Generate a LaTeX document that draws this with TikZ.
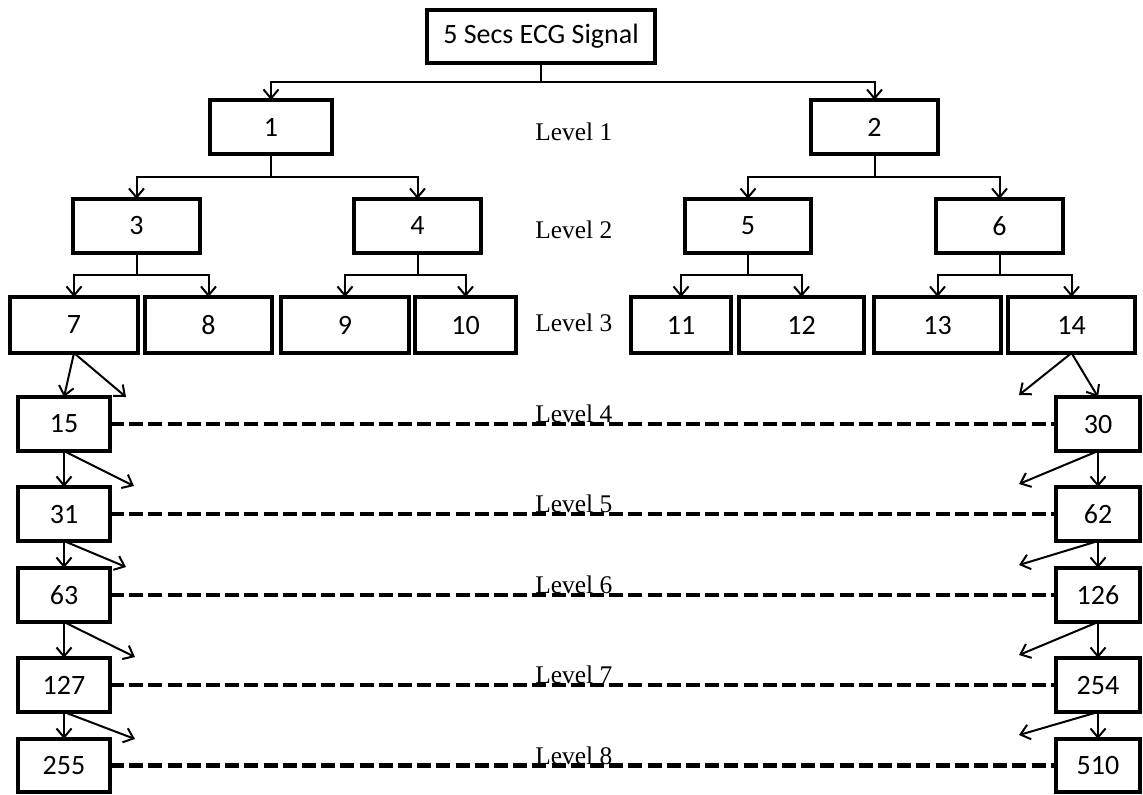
\documentclass[tikz,border=0pt]{standalone}
\usepackage{fontspec}
\setmainfont{Liberation Serif}
\newfontfamily\calfont{Carlito}
\usetikzlibrary{arrows.meta}
\tikzset{
  box/.style={draw, line width=1.8pt, inner sep=0pt, outer sep=0pt, font=\calfont\fontsize{14}{16}\selectfont},
  arr/.style={line width=1pt, -{Straight Barb[length=4.5pt,width=7.5pt,line width=1pt]}},
  conn/.style={line width=1pt},
  dashln/.style={line width=2.4pt, dash pattern=on 7pt off 2.6pt},
  lvl/.style={inner sep=0pt, anchor=base west, font=\fontsize{12.7}{14}\selectfont},
  tree/.style={to path={|- ($(\tikztostart)!0.5!(\tikztotarget)$) -| (\tikztotarget)}}
}
\usetikzlibrary{calc}
\newcommand\mybox[6]{\node[box, minimum width={(#3-#2)*0.5pt}, minimum height={(#5-#4)*0.5pt}] (#1) at ({(#2+#3)/2},{(#4+#5)/2}) {#6};}
\begin{document}
\begin{tikzpicture}[x=0.5pt, y=-0.5pt]
\useasboundingbox (0,0) rectangle (1143,794);
% level 0
\mybox{top}{427}{655}{10}{63}{5 Secs ECG Signal}
% level 1
\mybox{n1}{210}{332}{100}{154}{1}
\mybox{n2}{811}{938}{100}{154}{2}
% level 2
\mybox{n3}{73}{200}{199}{253}{3}
\mybox{n4}{354}{481}{199}{253}{4}
\mybox{n5}{685}{811}{199}{253}{5}
\mybox{n6}{936}{1063}{199}{253}{6}
% level 3
\mybox{n7}{10}{138}{297}{353}{7}
\mybox{n8}{145}{272}{297}{353}{8}
\mybox{n9}{281}{409}{297}{353}{9}
\mybox{n10}{415}{516}{297}{353}{10}
\mybox{n11}{631}{731}{297}{353}{11}
\mybox{n12}{739}{864}{297}{353}{12}
\mybox{n13}{874}{1001}{297}{353}{13}
\mybox{n14}{1008}{1135}{297}{353}{14}
% left column
\mybox{n15}{18}{110}{397}{451}{15}
\mybox{n31}{18}{110}{487}{541}{31}
\mybox{n63}{18}{110}{568}{622}{63}
\mybox{n127}{18}{110}{658}{712}{127}
\mybox{n255}{18}{110}{739}{792}{255}
% right column
\mybox{n30}{1056}{1140}{397}{451}{30}
\mybox{n62}{1056}{1140}{487}{541}{62}
\mybox{n126}{1056}{1140}{568}{622}{126}
\mybox{n254}{1056}{1140}{658}{712}{254}
\mybox{n510}{1056}{1140}{739}{792}{510}
% level labels
\node[lvl] (L1) at (535,140) {Level 1};
\node[lvl] (L2) at (535,238) {Level 2};
\node[lvl] (L3) at (535,331) {Level 3};
\node[lvl] (L4) at (535,422) {Level 4};
\node[lvl] (L5) at (535,512) {Level 5};
\node[lvl] (L6) at (535,593) {Level 6};
\node[lvl] (L7) at (535,683) {Level 7};
\node[lvl] (L8) at (535,764) {Level 8};
% tree connectors
\draw[arr] (top.south) to[tree] (n1.north);
\draw[arr] (top.south) to[tree] (n2.north);
\draw[arr] (n1.south) to[tree] (n3.north);
\draw[arr] (n1.south) to[tree] (n4.north);
\draw[arr] (n2.south) to[tree] (n5.north);
\draw[arr] (n2.south) to[tree] (n6.north);
\draw[arr] (n3.south) to[tree] (n7.north);
\draw[arr] (n3.south) to[tree] (n8.north);
\draw[arr] (n4.south) to[tree] (n9.north);
\draw[arr] (n4.south) to[tree] (n10.north);
\draw[arr] (n5.south) to[tree] (n11.north);
\draw[arr] (n5.south) to[tree] (n12.north);
\draw[arr] (n6.south) to[tree] (n13.north);
\draw[arr] (n6.south) to[tree] (n14.north);
% free ends of diagonal arrows
\coordinate (d1) at (126,397);
\coordinate (d2) at (134,486);
\coordinate (d3) at (126,567);
\coordinate (d4) at (135,657);
\coordinate (d5) at (135,739);
\coordinate (e1) at (1019,395);
\coordinate (e2) at (1019,484);
\coordinate (e3) at (1019,565);
\coordinate (e4) at (1019,655);
\coordinate (e5) at (1019,735);
% left chain
\draw[arr] (n7.south) -- (n15.north);
\draw[arr] (n7.south) -- (d1);
\draw[arr] (n15.south) -- (n31.north);
\draw[arr] (n15.south) -- (d2);
\draw[arr] (n31.south) -- (n63.north);
\draw[arr] (n31.south) -- (d3);
\draw[arr] (n63.south) -- (n127.north);
\draw[arr] (n63.south) -- (d4);
\draw[arr] (n127.south) -- (n255.north);
\draw[arr] (n127.south) -- (d5);
% right chain
\draw[arr] (n14.south) -- (n30.north);
\draw[arr] (n14.south) -- (e1);
\draw[arr] (n30.south) -- (n62.north);
\draw[arr] (n30.south) -- (e2);
\draw[arr] (n62.south) -- (n126.north);
\draw[arr] (n62.south) -- (e3);
\draw[arr] (n126.south) -- (n254.north);
\draw[arr] (n126.south) -- (e4);
\draw[arr] (n254.south) -- (n510.north);
\draw[arr] (n254.south) -- (e5);
% dashed level lines
\draw[dashln] (n15.east) -- (n30.west);
\draw[dashln] (n31.east) -- (n62.west);
\draw[dashln] (n63.east) -- (n126.west);
\draw[dashln] (n127.east) -- (n254.west);
\draw[dashln] (n255.east) -- (n510.west);
\end{tikzpicture}
\end{document}
